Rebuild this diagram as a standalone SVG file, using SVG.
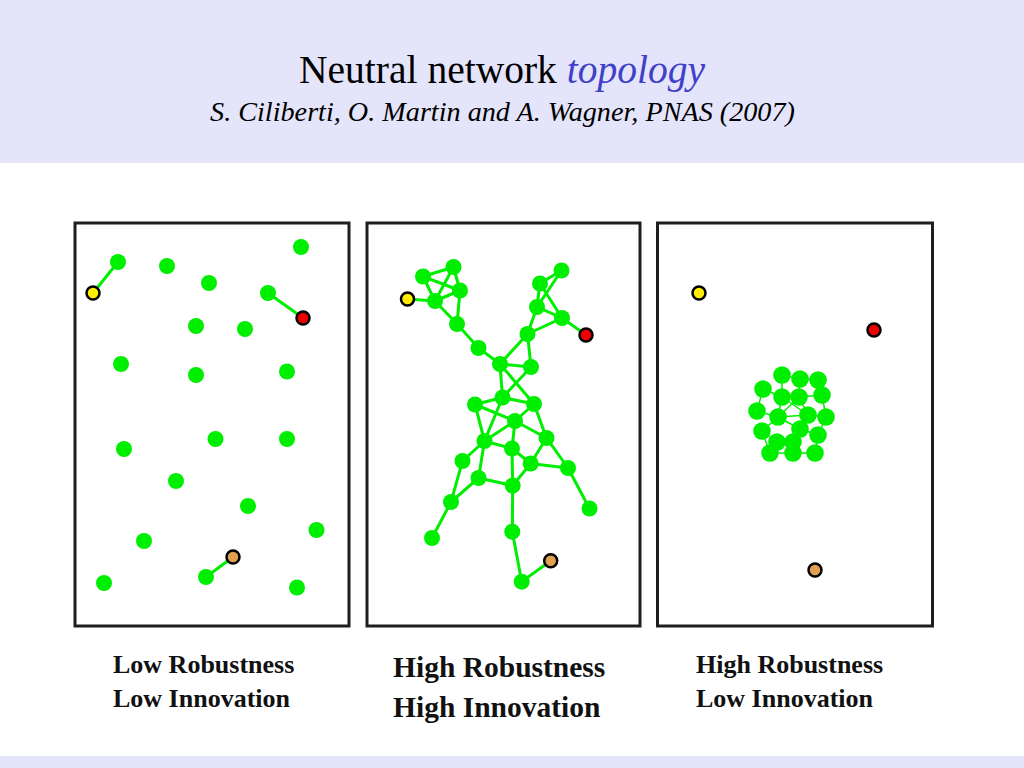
<svg xmlns="http://www.w3.org/2000/svg" width="1024" height="768" viewBox="0 0 1024 768">
<style>
.bg{fill:#e4e4fa}
.panel{fill:#ffffff;stroke:#1e1e1e;stroke-width:3}
.n{fill:#00ee00}
.nc{fill:#00ee00}
.e{stroke:#00ee00;stroke-width:3;fill:none;stroke-linecap:round}
.ec{stroke:#00ee00;stroke-width:1.5;fill:none}
.y{fill:#ffee00;stroke:#000;stroke-width:2.5}
.r{fill:#ee0000;stroke:#000;stroke-width:2.5}
.o{fill:#e0a050;stroke:#000;stroke-width:2.5}
.title{font-family:"Liberation Serif","Times New Roman",serif;font-size:39.5px;fill:#000}
.sub{font-family:"Liberation Serif","Times New Roman",serif;font-size:28.2px;font-style:italic;fill:#000}
.lab{font-family:"Liberation Serif","Times New Roman",serif;font-weight:bold;fill:#111}
</style>
<rect x="0" y="0" width="1024" height="768" fill="#ffffff"/>
<rect class="bg" x="0" y="0" width="1024" height="163"/>
<rect class="bg" x="0" y="756" width="1024" height="12"/>
<g id="header">
<text class="title" x="502" y="83" text-anchor="middle">Neutral network <tspan font-style="italic" fill="#4040c8">topology</tspan></text>
<text class="sub" x="502.5" y="121" text-anchor="middle">S. Ciliberti, O. Martin and A. Wagner, PNAS (2007)</text>
</g>
<g id="panels">
<rect class="panel" x="75" y="223" width="274" height="403"/>
<rect class="panel" x="367" y="223" width="273" height="403"/>
<rect class="panel" x="657.5" y="223" width="275" height="403"/>
</g>
<g id="connectors">
<line class="e" x1="93" y1="293" x2="118" y2="262"/>
<line class="e" x1="268" y1="293" x2="303" y2="318"/>
<line class="e" x1="233" y1="557" x2="206" y2="577"/>
<path class="e" d="M407.5 299L435 301M423 276.5L453.5 267M423 276.5L460 290.5M423 276.5L435 301M453.5 267L460 290.5M453.5 267L435 301M460 290.5L435 301M435 301L457 324M460 290.5L457 324M457 324L478.5 348L500 364L531 367M500 364L527.5 334L531 367M527.5 334L537 307L562 318L527.5 334M537 307L540 283.5L561.5 270.5L537 307M540 283.5L562 318L586 335"/>
<path class="e" d="M500 364L502.5 397.5M500 364L534 404M531 367L502.5 397.5M502.5 397.5L475 404.5M502.5 397.5L534 404M475 404.5L515 421M502.5 397.5L484.5 441M475 404.5L484.5 441M534 404L515 421M515 421L484.5 441M515 421L546.5 438M534 404L546.5 438M515 421L512 448.5M484.5 441L512 448.5M484.5 441L462.5 461L451 502L432 538M484.5 441L478.5 478L451 502M478.5 478L512.7 485.5L512 448.5L530.7 463.5L546.5 438L568 468L530.7 463.5L512.7 485.5M568 468L589.5 508.5M512.7 485.5L512.3 531.7L521.7 581.7L550.7 560.7"/>
<path class="ec" d="M782 375L800 379L818 380M763 389L782 397L799 397L822 395M757 411L778 417L808 415L826 417M762 431L777 442L793 442L800 429L818 435M770 453L793 453L815 453M782 375L782 397L778 417L762 431L770 453M800 379L799 397L808 415L800 429L793 442L793 453M818 380L822 395L826 417L818 435L815 453M763 389L757 411M782 397L808 415M799 397L778 417L800 429M777 442L770 453"/>
</g>
<g id="nodes-panel1">
<g id="p1-y"><circle class="y" cx="93" cy="293" r="6.5"/></g>
<g id="p1-r"><circle class="r" cx="303" cy="318" r="6.5"/></g>
<g id="p1-o"><circle class="o" cx="233" cy="557" r="6.5"/></g>
<g id="p1-n1"><circle class="n" cx="118" cy="262" r="8"/></g>
<g id="p1-n2"><circle class="n" cx="167" cy="266" r="8"/></g>
<g id="p1-n3"><circle class="n" cx="301" cy="247" r="8"/></g>
<g id="p1-n4"><circle class="n" cx="209" cy="283" r="8"/></g>
<g id="p1-n5"><circle class="n" cx="268" cy="293" r="8"/></g>
<g id="p1-n6"><circle class="n" cx="196" cy="326" r="8"/></g>
<g id="p1-n7"><circle class="n" cx="245" cy="329" r="8"/></g>
<g id="p1-n8"><circle class="n" cx="121" cy="364" r="8"/></g>
<g id="p1-n9"><circle class="n" cx="196" cy="375" r="8"/></g>
<g id="p1-n10"><circle class="n" cx="287" cy="371.5" r="8"/></g>
<g id="p1-n11"><circle class="n" cx="124" cy="449" r="8"/></g>
<g id="p1-n12"><circle class="n" cx="215.5" cy="439" r="8"/></g>
<g id="p1-n13"><circle class="n" cx="287" cy="439" r="8"/></g>
<g id="p1-n14"><circle class="n" cx="176" cy="481" r="8"/></g>
<g id="p1-n15"><circle class="n" cx="248" cy="506" r="8"/></g>
<g id="p1-n16"><circle class="n" cx="316.5" cy="530" r="8"/></g>
<g id="p1-n17"><circle class="n" cx="144" cy="541" r="8"/></g>
<g id="p1-n18"><circle class="n" cx="206" cy="577" r="8"/></g>
<g id="p1-n19"><circle class="n" cx="104" cy="583" r="8"/></g>
<g id="p1-n20"><circle class="n" cx="297" cy="587.5" r="8"/></g>
</g>
<g id="nodes-panel2">
<g id="p2-y"><circle class="y" cx="407.5" cy="299" r="6.5"/></g>
<g id="p2-r"><circle class="r" cx="586" cy="335" r="6.5"/></g>
<g id="p2-o"><circle class="o" cx="550.7" cy="560.7" r="6.5"/></g>
<g id="p2-A"><circle class="n" cx="423" cy="276.5" r="8"/></g>
<g id="p2-B"><circle class="n" cx="453.5" cy="267" r="8"/></g>
<g id="p2-C"><circle class="n" cx="460" cy="290.5" r="8"/></g>
<g id="p2-D"><circle class="n" cx="435" cy="301" r="8"/></g>
<g id="p2-E"><circle class="n" cx="457" cy="324" r="8"/></g>
<g id="p2-F"><circle class="n" cx="478.5" cy="348" r="8"/></g>
<g id="p2-G"><circle class="n" cx="500" cy="364" r="8"/></g>
<g id="p2-H"><circle class="n" cx="531" cy="367" r="8"/></g>
<g id="p2-I"><circle class="n" cx="527.5" cy="334" r="8"/></g>
<g id="p2-J"><circle class="n" cx="537" cy="307" r="8"/></g>
<g id="p2-K"><circle class="n" cx="562" cy="318" r="8"/></g>
<g id="p2-L"><circle class="n" cx="540" cy="283.5" r="8"/></g>
<g id="p2-M"><circle class="n" cx="561.5" cy="270.5" r="8"/></g>
<g id="p2-N"><circle class="n" cx="502.5" cy="397.5" r="8"/></g>
<g id="p2-O"><circle class="n" cx="475" cy="404.5" r="8"/></g>
<g id="p2-P"><circle class="n" cx="534" cy="404" r="8"/></g>
<g id="p2-Q"><circle class="n" cx="515" cy="421" r="8"/></g>
<g id="p2-R"><circle class="n" cx="484.5" cy="441" r="8"/></g>
<g id="p2-S"><circle class="n" cx="546.5" cy="438" r="8"/></g>
<g id="p2-T"><circle class="n" cx="512" cy="448.5" r="8"/></g>
<g id="p2-U"><circle class="n" cx="462.5" cy="461" r="8"/></g>
<g id="p2-V"><circle class="n" cx="530.7" cy="463.5" r="8"/></g>
<g id="p2-W"><circle class="n" cx="568" cy="468" r="8"/></g>
<g id="p2-X"><circle class="n" cx="478.5" cy="478" r="8"/></g>
<g id="p2-Z"><circle class="n" cx="512.7" cy="485.5" r="8"/></g>
<g id="p2-AA"><circle class="n" cx="451" cy="502" r="8"/></g>
<g id="p2-BB"><circle class="n" cx="589.5" cy="508.5" r="8"/></g>
<g id="p2-CC"><circle class="n" cx="432" cy="538" r="8"/></g>
<g id="p2-DD"><circle class="n" cx="512.3" cy="531.7" r="8"/></g>
<g id="p2-EE"><circle class="n" cx="521.7" cy="581.7" r="8"/></g>
</g>
<g id="nodes-panel3">
<g id="p3-y"><circle class="y" cx="699" cy="293" r="6.5"/></g>
<g id="p3-r"><circle class="r" cx="874" cy="330" r="6.5"/></g>
<g id="p3-o"><circle class="o" cx="815" cy="570" r="6.5"/></g>
<g id="p3-cluster">
<circle class="nc" cx="782" cy="375" r="8.8"/>
<circle class="nc" cx="800" cy="379" r="8.8"/>
<circle class="nc" cx="818" cy="380" r="8.8"/>
<circle class="nc" cx="763" cy="389" r="8.8"/>
<circle class="nc" cx="782" cy="397" r="8.8"/>
<circle class="nc" cx="799" cy="397" r="8.8"/>
<circle class="nc" cx="822" cy="395" r="8.8"/>
<circle class="nc" cx="757" cy="411" r="8.8"/>
<circle class="nc" cx="778" cy="417" r="8.8"/>
<circle class="nc" cx="808" cy="415" r="8.8"/>
<circle class="nc" cx="826" cy="417" r="8.8"/>
<circle class="nc" cx="762" cy="431" r="8.8"/>
<circle class="nc" cx="800" cy="429" r="8.8"/>
<circle class="nc" cx="818" cy="435" r="8.8"/>
<circle class="nc" cx="777" cy="442" r="8.8"/>
<circle class="nc" cx="793" cy="442" r="8.8"/>
<circle class="nc" cx="770" cy="453" r="8.8"/>
<circle class="nc" cx="793" cy="453" r="8.8"/>
<circle class="nc" cx="815" cy="453" r="8.8"/>
</g>
</g>
<g id="labels">
<text class="lab" font-size="26" x="113" y="673">Low Robustness</text>
<text class="lab" font-size="26" x="113" y="707">Low Innovation</text>
<text class="lab" font-size="29.5" x="393" y="677">High Robustness</text>
<text class="lab" font-size="29.5" x="393" y="717">High Innovation</text>
<text class="lab" font-size="26" x="696" y="673">High Robustness</text>
<text class="lab" font-size="26" x="696" y="707">Low Innovation</text>
</g>
</svg>
